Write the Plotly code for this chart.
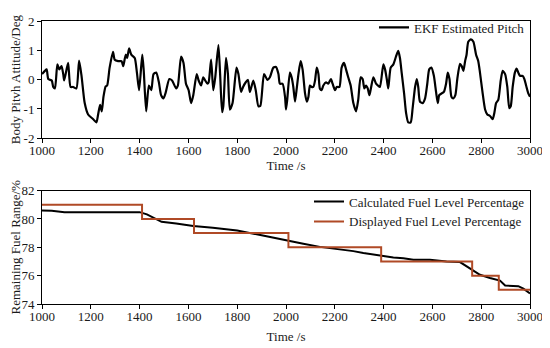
import plotly.graph_objects as go

# ---- Top panel: EKF estimated pitch ----
pitch_t = [1000, 1012, 1019, 1026, 1040, 1046, 1053, 1063, 1071, 1080, 1087, 1091, 1107, 1117, 1128, 1141,
           1152, 1162, 1175, 1189, 1210, 1223, 1230, 1238, 1245, 1252, 1261, 1267, 1277, 1291, 1298, 1312,
           1326, 1333, 1343, 1349, 1357, 1366, 1380, 1389, 1398, 1411, 1417, 1427, 1438, 1448, 1457, 1468,
           1479, 1488, 1498, 1506, 1522, 1533, 1550, 1557, 1570, 1580, 1590, 1601, 1611, 1620, 1634, 1642,
           1652, 1661, 1669, 1678, 1683, 1693, 1702, 1710, 1723, 1730, 1738, 1743, 1754, 1762, 1770, 1781,
           1797, 1805, 1816, 1824, 1835, 1844, 1852, 1866, 1876, 1887, 1895, 1910, 1924, 1934, 1948, 1959,
           1969, 1975, 1986, 1996, 2000, 2005, 2016, 2023, 2030, 2037, 2044, 2051, 2060, 2068, 2078, 2085,
           2092, 2098, 2105, 2112, 2119, 2126, 2133, 2139, 2146, 2153, 2164, 2173, 2184, 2191, 2201, 2208,
           2219, 2228, 2238, 2246, 2255, 2265, 2276, 2287, 2296, 2306, 2314, 2321, 2328, 2335, 2342, 2349,
           2358, 2369, 2377, 2385, 2399, 2406, 2413, 2419, 2429, 2440, 2451, 2460, 2467, 2474, 2484, 2492,
           2501, 2511, 2519, 2529, 2536, 2542, 2549, 2560, 2570, 2579, 2587, 2596, 2606, 2615, 2622, 2628,
           2638, 2647, 2656, 2663, 2670, 2678, 2686, 2694, 2702, 2713, 2720, 2727, 2734, 2740, 2747, 2758,
           2768, 2779, 2788, 2795, 2806, 2816, 2825, 2836, 2847, 2854, 2861, 2870, 2880, 2888, 2898, 2907,
           2915, 2921, 2929, 2938, 2945, 2952, 2959, 2970, 2977, 2984, 2993, 3000]
pitch_v = [0.19, 0.30, 0.35, 0.02, -0.03, -0.25, -0.30, 0.52, 0.35, 0.46, 0.19, -0.03, 0.57, -0.25, -0.25, -0.30,
           0.65, 0.13, -0.80, -1.19, -1.35, -1.46, -1.19, -0.86, -1.08, -0.58, -0.23, -0.20, 0.40, 0.95, 0.68, 0.63,
           0.63, 0.46, 0.85, 0.74, 1.07, 0.85, 0.74, 0.24, -0.36, 0.85, 0.30, -1.08, -0.20, -0.36, 0.19, 0.24,
           -0.09, -0.53, -0.64, -0.47, 0.02, -0.03, -0.30, -0.20, 0.79, 0.57, -0.14, -0.36, -0.80, -0.53, 0.19, -0.03,
           -0.20, 0.08, -0.03, -0.14, -0.09, 0.68, -0.36, 0.08, 1.18, 0.19, -1.11, -0.91, 0.74, 0.19, -1.02, -0.80,
           0.41, 0.19, -0.42, -0.25, -0.09, -0.01, -0.42, -0.03, -0.36, -0.91, -0.89, 0.19, -0.01, 0.08, 0.41, 0.43,
           0.19, -0.14, -0.14, -0.58, -1.02, -0.69, 0.24, 0.08, -0.25, -0.75, -0.30, 0.19, 0.63, 0.35, -0.47, -0.75,
           -0.58, -0.20, -0.25, -0.25, -0.03, 0.41, 0.19, -0.31, -0.36, -0.20, -0.09, -0.14, 0.02, -0.14, -0.36, -0.25,
           -0.25, 0.41, 0.57, 0.35, 0.08, -0.20, -0.80, -1.08, -0.69, 0.08, 0.02, -0.30, -0.20, -0.30, -0.53, -0.25,
           0.08, -0.14, -0.20, -0.25, 0.52, 0.35, 0.02, -0.30, 0.41, 0.52, 0.79, 0.98, 0.74, 0.24, -0.47, -1.13,
           -1.46, -1.46, -0.97, -0.25, 0.02, -0.25, -0.75, -0.80, -0.64, -0.14, 0.35, 0.41, 0.13, -0.42, -0.80, -0.53,
           -0.47, -0.42, -0.14, 0.24, 0.02, -0.58, -0.64, -0.53, 0.02, 0.54, 0.46, 0.30, 0.63, 0.85, 1.29, 1.37,
           1.29, 0.85, 0.63, 0.24, -0.47, -1.02, -1.19, -1.24, -1.35, -1.13, -0.80, -0.69, -0.03, 0.30, 0.19, -0.25,
           -0.97, -0.91, -0.25, 0.24, 0.38, 0.24, 0.13, 0.13, 0.02, -0.20, -0.47, -0.58]

# ---- Bottom panel: fuel level ----
calc_t = [1000, 1040, 1092, 1200, 1300, 1400, 1430, 1460, 1490, 1550, 1620, 1700, 1800, 1900, 1968,
          2000, 2071, 2139, 2208, 2276, 2317, 2358, 2399, 2440, 2481, 2522, 2590, 2658, 2713, 2740,
          2768, 2795, 2836, 2877, 2898, 2932, 2952, 2973, 3000]
calc_v = [80.59, 80.58, 80.48, 80.48, 80.48, 80.48, 80.32, 80.05, 79.80, 79.68, 79.50, 79.38, 79.18, 78.85, 78.60,
          78.48, 78.25, 78.03, 77.90, 77.73, 77.60, 77.50, 77.35, 77.28, 77.23, 77.12, 77.12, 77.00, 76.96, 76.67,
          76.33, 76.06, 75.83, 75.65, 75.30, 75.26, 75.26, 75.08, 74.74]

disp_t = [1000, 1410, 1623, 2010, 2390, 2763, 2872, 3000]
disp_v = [81, 80, 79, 78, 77, 76, 75, 75]

x_ticks = [1000, 1200, 1400, 1600, 1800, 2000, 2200, 2400, 2600, 2800, 3000]
pitch_ticks = [-2, -1, 0, 1, 2]
pitch_tick_labels = ["-2", "-1", "0", "1", "2"]
fuel_ticks = [74, 76, 78, 80, 82]

SERIF = "Liberation Serif"
tickfont = dict(family=SERIF, size=13, color="#1a1a1a")
titlefont = dict(family=SERIF, size=13, color="#1a1a1a")

fig = go.Figure()
fig.add_trace(go.Scatter(x=pitch_t, y=pitch_v, mode="lines", name="EKF Estimated Pitch",
                         line=dict(color="black", width=2.2, shape="spline", smoothing=0.6),
                         xaxis="x", yaxis="y", legend="legend"))
fig.add_trace(go.Scatter(x=calc_t, y=calc_v, mode="lines", name="Calculated Fuel Level Percentage",
                         line=dict(color="black", width=2),
                         xaxis="x2", yaxis="y2", legend="legend2"))
fig.add_trace(go.Scatter(x=disp_t, y=disp_v, mode="lines", name="Displayed Fuel Level Percentage",
                         line=dict(color="#B04A26", width=2, shape="hv"),
                         xaxis="x2", yaxis="y2", legend="legend2"))

axis_common = dict(showline=True, linecolor="black", linewidth=1, mirror=True, ticks="outside",
                   ticklen=4, tickcolor="black", showgrid=False, zeroline=False, tickfont=tickfont,
                   automargin=False)

# The page body adds an 8px offset, so the figure is sized 542x340 to fill the 550x348 window.
fig.update_layout(
    width=542, height=340,
    margin=dict(l=34, r=20, t=4, b=44),
    paper_bgcolor="white", plot_bgcolor="white",
    xaxis=dict(domain=[0, 1], anchor="y", range=[1000, 3000], tickvals=x_ticks, ticklabelstandoff=-4,
               title=dict(text="Time /s", font=titlefont, standoff=0), **axis_common),
    yaxis=dict(domain=[0.5856, 1], anchor="x", range=[-2, 2], tickvals=pitch_ticks,
               ticktext=pitch_tick_labels,
               title=dict(text="Body Pitvh Attitude/Deg", font=titlefont, standoff=4), **axis_common),
    xaxis2=dict(domain=[0, 1], anchor="y2", range=[1000, 3000], tickvals=x_ticks, ticklabelstandoff=-4,
                title=dict(text="Time /s", font=titlefont, standoff=9), **axis_common),
    yaxis2=dict(domain=[0, 0.4007], anchor="x2", range=[74, 82], tickvals=fuel_ticks,
                title=dict(text="Remaining Fuel Range/%", font=titlefont, standoff=2), **axis_common),
    legend=dict(x=1.0, y=1.03, xanchor="right", yanchor="top", bgcolor="rgba(0,0,0,0)",
                font=dict(family=SERIF, size=13, color="#1a1a1a"), tracegroupgap=0,
                itemwidth=30),
    legend2=dict(x=1.0, y=0.415, xanchor="right", yanchor="top", bgcolor="rgba(0,0,0,0)",
                 font=dict(family=SERIF, size=13, color="#1a1a1a"), tracegroupgap=0,
                 itemwidth=30),
    showlegend=True,
)

fig.write_html("out.html")
